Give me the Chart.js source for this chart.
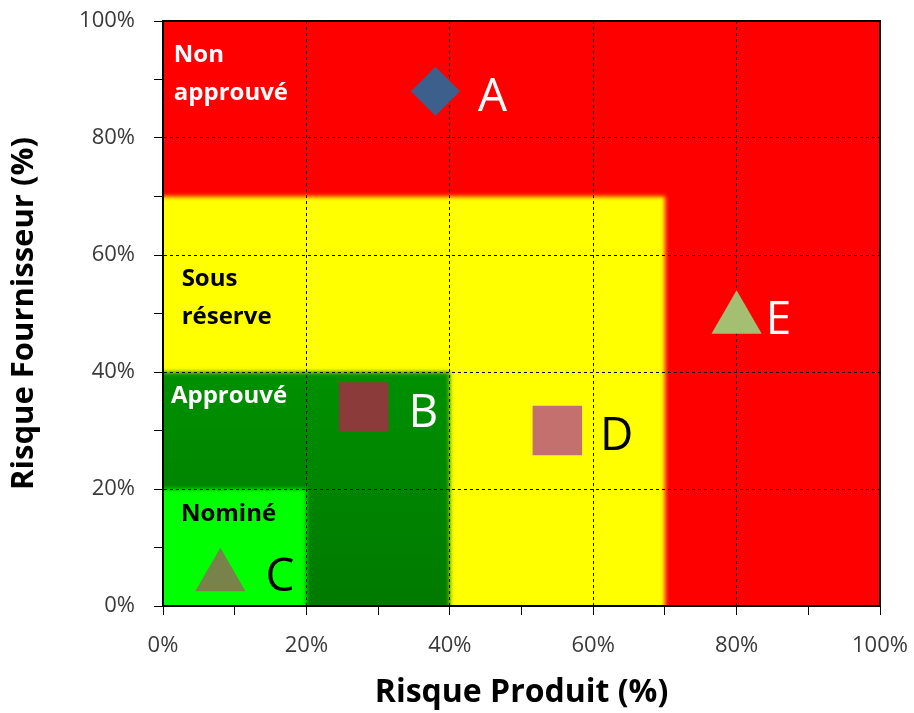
<!DOCTYPE html>
<html lang="fr">
<head>
    <meta charset="UTF-8">
    <title>Matrice risque produit / fournisseur</title>
    <script src="https://cdn.jsdelivr.net/npm/chart.js@4/dist/chart.umd.min.js"></script>
    <style>
        html, body { margin: 0; padding: 0; background: #fff; }
        #wrap { width: 914px; height: 713px; }
    </style>
</head>
<body>
<div id="wrap"><canvas id="riskChart"></canvas></div>

<script>
    // fournisseurs
    var pointNames = ["A", "B", "C", "D", "E"];
    var riskProduct = [38, 28, 8, 55, 80];      // %
    var riskSupplier = [88, 34, 5, 30, 49];     // %

    // zones (coin bas-gauche a 0/0)
    var zoneNames = [["Non", "approuvé"], ["Sous", "réserve"], ["Approuvé"], ["Nominé"]];
    var zoneMaxX = [100, 70, 40, 20];
    var zoneMaxY = [100, 70, 40, 20];

    var axisTicks = [0, 20, 40, 60, 80, 100];

    // styles
    var FONT = "'Open Sans', 'Noto Sans', sans-serif";
    var zoneColors = ["#ff0000", "#ffff00", "#008a00", "#00ff00"];
    var zoneTextColors = ["#ffffff", "#000000", "#ffffff", "#000000"];
    var zoneTextAt = [[1.5, 94.4], [2.6, 56.2], [1.1, 36.2], [2.5, 16.0]];   // data units, cap centre
    var pointColors = ["#3d5f8b", "#8c3b3b", "#77834a", "#c3706f", "#a5bf72"];
    var pointShapes = ["rectRot", "rect", "triangle", "rect", "triangle"];
    var pointSizes = [24.5, 35, 29, 35, 29];
    var labelColors = ["#ffffff", "#ffffff", "#000000", "#000000", "#ffffff"];
    var labelGap = [18, 20, 20, 18, 4];

    var zonesPlugin = {
        id: "zones",
        beforeDraw: function (chart) {
            var ctx = chart.ctx, area = chart.chartArea;
            var xs = chart.scales.x, ys = chart.scales.y;
            ctx.save();
            ctx.beginPath();
            ctx.rect(area.left, area.top, area.right - area.left, area.bottom - area.top);
            ctx.clip();
            for (var i = 0; i < zoneMaxX.length; i++) {
                var x0 = area.left - 20;
                var y1 = area.bottom + 20;
                var x1 = xs.getPixelForValue(zoneMaxX[i]);
                var y0 = ys.getPixelForValue(zoneMaxY[i]);
                if (i === 0) { x1 += 20; y0 -= 20; }
                ctx.filter = i === 0 ? "none" : "blur(2px)";
                if (i === 2) {
                    var g = ctx.createLinearGradient(0, y0, 0, area.bottom);
                    g.addColorStop(0, "#009000");
                    g.addColorStop(1, "#007a00");
                    ctx.fillStyle = g;
                } else {
                    ctx.fillStyle = zoneColors[i];
                }
                ctx.fillRect(x0, y0, x1 - x0, y1 - y0);
            }
            ctx.restore();
        },
        beforeDatasetsDraw: function (chart) {
            var ctx = chart.ctx;
            var xs = chart.scales.x, ys = chart.scales.y;
            ctx.save();
            ctx.font = "bold 24px " + FONT;
            ctx.textAlign = "left";
            ctx.textBaseline = "alphabetic";
            for (var i = 0; i < zoneNames.length; i++) {
                var px = xs.getPixelForValue(zoneTextAt[i][0]);
                var py = ys.getPixelForValue(zoneTextAt[i][1]);
                ctx.fillStyle = zoneTextColors[i];
                for (var j = 0; j < zoneNames[i].length; j++) {
                    ctx.fillText(zoneNames[i][j], px, py + 8.5 + j * 38);
                }
            }
            ctx.restore();
        },
        afterDatasetsDraw: function (chart) {
            var ctx = chart.ctx;
            var meta = chart.getDatasetMeta(0);
            ctx.save();
            ctx.font = "46px " + FONT;
            ctx.textAlign = "left";
            ctx.textBaseline = "alphabetic";
            meta.data.forEach(function (pt, i) {
                var r = pointSizes[i];
                var half = pointShapes[i] === "rect" ? r * Math.SQRT1_2 : (pointShapes[i] === "triangle" ? r * 0.866 : r);
                var dy = pointShapes[i] === "triangle" ? -2 : 3;
                ctx.fillStyle = labelColors[i];
                ctx.fillText(pointNames[i], pt.x + half + labelGap[i], pt.y + dy + 16.4);
            });
            ctx.restore();
        },
        afterDraw: function (chart) {
            var ctx = chart.ctx, a = chart.chartArea;
            ctx.save();
            ctx.strokeStyle = "#000";
            ctx.lineWidth = 2;
            ctx.strokeRect(a.left, a.top, a.right - a.left, a.bottom - a.top);
            ctx.restore();
        }
    };

    var points = [];
    for (var i = 0; i < pointNames.length; i++) {
        points.push({x: riskProduct[i], y: riskSupplier[i]});
    }

    function gridColor(c) {
        return c.tick && axisTicks.indexOf(c.tick.value) >= 0 ? "#000000" : "rgba(0,0,0,0)";
    }

    function tickLabel(v) {
        return axisTicks.indexOf(v) >= 0 ? v + "%" : "";
    }

    var config = {
        type: "scatter",
        data: {
            datasets: [{
                label: "Fournisseurs",
                data: points,
                pointStyle: pointShapes,
                pointRadius: pointSizes,
                pointHoverRadius: pointSizes,
                backgroundColor: pointColors,
                borderColor: pointColors,
                borderWidth: 0
            }]
        },
        options: {
            responsive: true,
            maintainAspectRatio: false,
            animation: false,
            events: [],
            layout: {autoPadding: false, padding: {top: 21, right: 34, left: 0, bottom: 0}},
            plugins: {legend: {display: false}, tooltip: {enabled: false}},
            scales: {
                x: {
                    type: "linear", min: 0, max: 100,
                    afterFit: function (s) { s.height = 107; s.paddingLeft = 0; s.paddingRight = 0; },
                    ticks: {stepSize: 10, autoSkip: false, maxRotation: 0, callback: tickLabel,
                        padding: 18, color: "#3a3a3a", font: {family: FONT, size: 22}},
                    grid: {color: gridColor, tickColor: "#000", tickLength: 9, lineWidth: 1},
                    border: {display: true, color: "#000", width: 2, dash: [3, 3]},
                    title: {display: true, text: "Risque Produit (%)", color: "#000",
                        font: {family: FONT, size: 32, weight: "bold"}, padding: {top: 0, bottom: 1}}
                },
                y: {
                    type: "linear", min: 0, max: 100,
                    afterFit: function (s) { s.width = 163; s.paddingTop = 0; s.paddingBottom = 0; },
                    ticks: {stepSize: 10, autoSkip: false, callback: tickLabel,
                        padding: 19, color: "#3a3a3a", font: {family: FONT, size: 22}},
                    grid: {color: gridColor, tickColor: "#000", tickLength: 9, lineWidth: 1},
                    border: {display: true, color: "#000", width: 2, dash: [3, 3]},
                    title: {display: true, text: "Risque Fournisseur (%)", color: "#000",
                        font: {family: FONT, size: 31, weight: "bold"}, padding: {top: 6, bottom: 0}}
                }
            }
        },
        plugins: [zonesPlugin]
    };

    var ctx = document.getElementById("riskChart").getContext("2d");
    new Chart(ctx, config);
</script>
</body>
</html>
